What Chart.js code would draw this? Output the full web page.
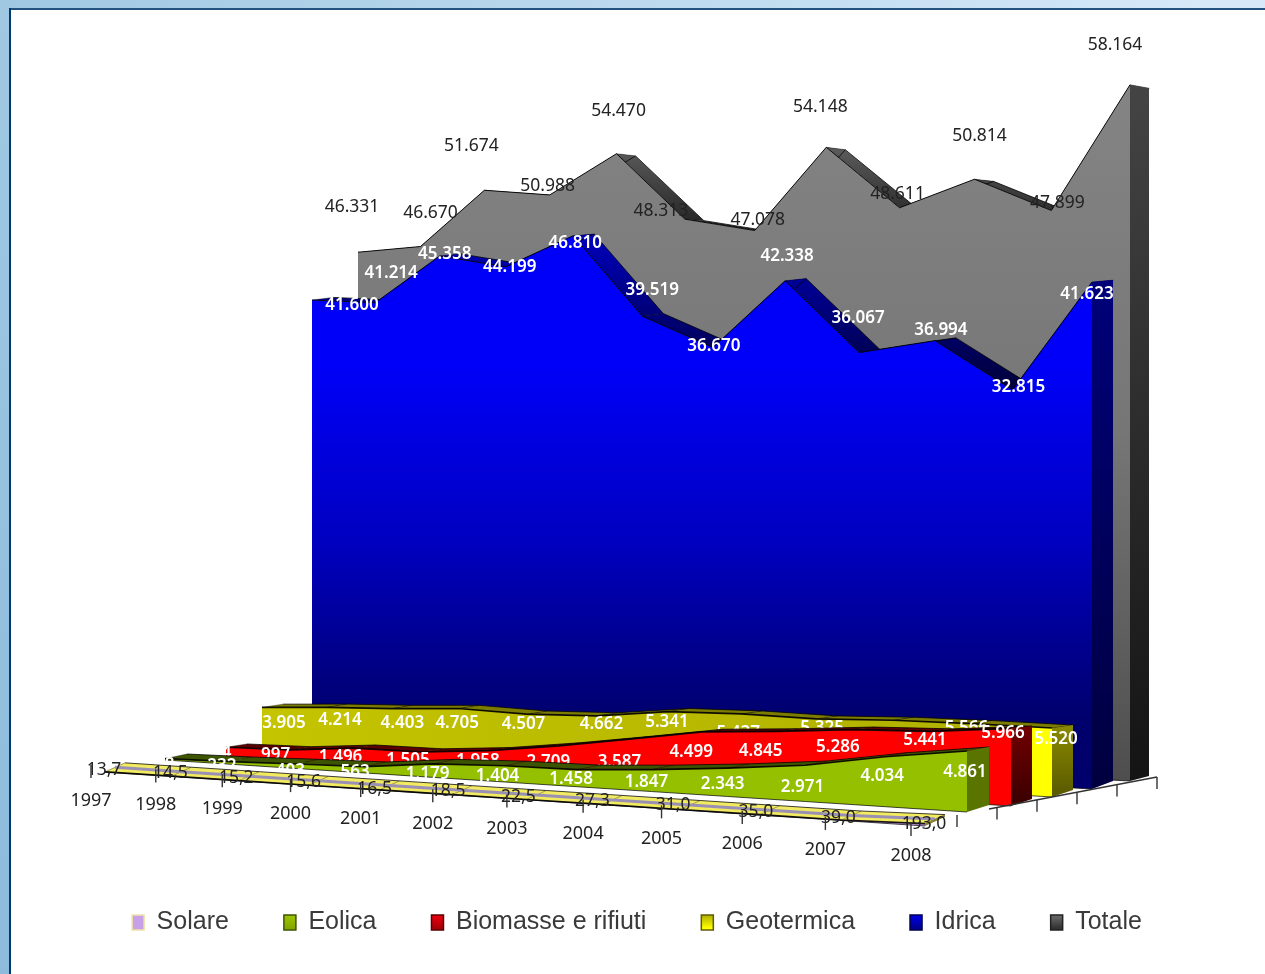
<!DOCTYPE html>
<html><head><meta charset="utf-8">
<style>
html,body{margin:0;padding:0;background:#fff;overflow:hidden}
#topbar{position:absolute;left:0;top:0;width:1265px;height:8px;background:linear-gradient(90deg,#a0c8e2,#d8eafa)}
#topline{position:absolute;left:9px;top:8px;width:1256px;height:2px;background:#24527f}
#leftbar{position:absolute;left:0;top:0;width:9px;height:974px;background:linear-gradient(180deg,#a0c8e2,#8cbbdc)}
#leftline{position:absolute;left:9px;top:8px;width:2px;height:966px;background:#003a70}
canvas{position:absolute;left:0;top:0;filter:blur(.4px)}
</style>
<script src="https://cdn.jsdelivr.net/npm/chart.js@4/dist/chart.umd.min.js"></script>
</head><body>
<div id="topbar"></div><div id="topline"></div><div id="leftbar"></div><div id="leftline"></div>
<canvas id="c" width="1265" height="974"></canvas>
<script>
const categories=['1997','1998','1999','2000','2001','2002','2003','2004','2005','2006','2007','2008'];
const solare=[13.7,14.5,15.2,15.6,16.5,18.5,22.5,27.3,31.0,35.0,39.0,193.0];
const eolica=[118,232,403,563,1179,1404,1458,1847,2343,2971,4034,4861];
const biomasse=[894,997,1496,1505,1958,2709,3587,4499,4845,5286,5441,5966];
const geotermica=[3905,4214,4403,4705,4507,4662,5341,5437,5325,5527,5566,5520];
const idrica=[41600,41214,45358,44199,46810,39519,36670,42338,36067,36994,32815,41623];
const totale=[46331,46670,51674,50988,54470,48313,47078,54148,48611,50814,47899,58164];

const PERSP=1.135, PERSP_AXIS=1.166;
const f=(u,a=PERSP)=>u/(a-(a-1)*u);
// projection of each ribbon: left/right ends, baseline, px per 1000 units, depth
const geo=[
 {x0:105,xN:925,yb0:772,ybN:826,k0:11,kN:12.6,dd:20,db:-9,tb:-9},
 {x0:165,xN:967,yb0:760,ybN:812,k0:10.9,kN:12.55,dd:22,db:-7,tb:-4.7},
 {x0:226,xN:1011,yb0:757,ybN:806,k0:10.9,kN:13,dd:21,db:-7,tb:-3.4},
 {x0:262,xN:1052,yb0:750,ybN:797,k0:10.9,kN:12.5,dd:21,db:-7,tb:-3.8},
 {x0:312,xN:1092,yb0:746,ybN:789,k0:10.72,kN:12.18,dd:21,db:-8,tb:-8},
 {x0:358,xN:1130,yb0:742.4,ybN:781,k0:10.58,kN:11.97,dd:19,db:-5,tb:-5}
];
const labelNudge=[
 [[-1,-4],[-1,-5],[-3,-5],[-5,-5],[-5,-3],[-4,-6],[-8,-4],[-10,-5],[-7,-6],[-4,-5],[-3,-4],[-1,-2]],
 [[-5,4],[-8,3],[-6,5],[-9,4],[-6,8],[-7,8],[-6,8],[-5,11],[-5,14],[-3,20],[-3,17],[-2,19]],
 [[-9,4],[-14,3],[-14,7],[-13,6],[-11,8],[-10,14],[-10,21],[-11,18],[-16,18],[-15,16],[-6,7],[-8,3]],
 [[22,14],[14,11],[11,13],[-1,13],[-3,8],[5,6],[-1,9],[-3,17],[6,7],[0,16],[-5,3],[4,9]],
 [[40,3],[16,-32],[5,-4],[4,-2],[2,5],[10,-28],[1,-3],[2,-27],[-1,-36],[6,-12],[6,-5],[-5,10]],
 [[-6,-47],[10,-35],[-13,-46],[-2,-11],[2,-45],[-24,-10],[3,-13],[-6,-42],[-2,-16],[5,-45],[6,-9],[-15,-42]]
];
const LABEL_DY=2;
const fmtInt=v=>{const s=String(v);return s.length>3?s.slice(0,-3)+'.'+s.slice(-3):s;};
const fmtSol=v=>v.toFixed(1).replace('.',',');

function grad(ctx,y0,y1,stops){const g=ctx.createLinearGradient(0,y0,0,y1);stops.forEach((c,i)=>g.addColorStop(stops.length>1?i/(stops.length-1):0,c));return g;}
function hgrad(ctx,x0,x1,stops){const g=ctx.createLinearGradient(x0,0,x1,0);stops.forEach(s=>g.addColorStop(s[0],s[1]));return g;}
const paint=[
 {face:c=>'#c8a0e8',top:c=>'#f2ea60',side:c=>'#8a8030'},
 {face:c=>'#94c000',top:c=>'#3d5500',side:c=>'#5a7400'},
 {face:c=>'#ff0000',top:c=>'#5a0000',side:c=>grad(c,725,805,['#720000','#3a0000'])},
 {face:(c,s)=>hgrad(c,s.x0,s.xN,[[0,'#c4c400'],[0.965,'#b0b000'],[0.97,'#ffff00'],[1,'#ffff00']]),top:c=>'#7c7c00',side:c=>grad(c,725,795,['#8a8a00','#5a5a00'])},
 {face:c=>grad(c,365,720,['#0000f8','#0000c0','#00006c']),top:c=>grad(c,240,390,['#0000b8','#000038']),side:c=>grad(c,282,785,['#00007a','#000040'])},
 {face:c=>grad(c,85,781,['#848484','#767676','#4e4e4e']),top:c=>grad(c,150,235,['#5a5a5a','#1e1e1e']),side:c=>grad(c,85,777,['#444444','#141414'])}
];

const ribbons={
 id:'ribbons',
 afterDatasetsUpdate(chart){
  const xs=chart.scales.x,ys=chart.scales.y;
  chart.data.datasets.forEach((d,i)=>{
   const g=geo[i];
   chart.getDatasetMeta(i).data.forEach(el=>{
    const ft=f((el.x-xs.left)/xs.width);
    const h=(ys.bottom-el.y)/ys.height*(ys.max/1000);
    const yb=g.yb0+(g.ybN-g.yb0)*ft,k=g.k0+(g.kN-g.k0)*ft;
    const px=h*k;
    el.x=g.x0+(g.xN-g.x0)*ft;
    el.y=yb-px;
    el.$b={yb,bx:el.x+g.dd,by:el.y+g.tb+0.012*px,bb:yb+g.db};
   });
  });
 },
 beforeDatasetDraw(chart,args){
  const i=args.index,ctx=chart.ctx,g=geo[i],p=paint[i],pts=chart.getDatasetMeta(i).data;
  const n=pts.length-1,last=pts[n];
  ctx.save();
  // top face, one quad per segment so that peaks keep their edge
  ctx.fillStyle=p.top(ctx,g);
  for(let j=0;j<n;j++){
   const a=pts[j],b=pts[j+1];
   ctx.beginPath();ctx.moveTo(a.x,a.y);ctx.lineTo(b.x,b.y);ctx.lineTo(b.$b.bx,b.$b.by);ctx.lineTo(a.$b.bx,a.$b.by);ctx.closePath();ctx.fill();
  }
  // back edge
  ctx.beginPath();
  pts.forEach((e,j)=>j?ctx.lineTo(e.$b.bx,e.$b.by):ctx.moveTo(e.$b.bx,e.$b.by));
  ctx.strokeStyle='rgba(0,0,0,.75)';ctx.lineWidth=1;ctx.stroke();
  ctx.strokeStyle='rgba(0,0,0,.35)';
  pts.forEach(e=>{ctx.beginPath();ctx.moveTo(e.x,e.y);ctx.lineTo(e.$b.bx,e.$b.by);ctx.stroke();});
  if(i===0){
   ctx.beginPath();
   pts.forEach((e,j)=>{const mx=(e.x+e.$b.bx)/2,my=(e.y+e.$b.by)/2;j?ctx.lineTo(mx,my):ctx.moveTo(mx,my);});
   ctx.strokeStyle='#9a90b4';ctx.lineWidth=3;ctx.stroke();
  }
  // right side
  ctx.beginPath();
  ctx.moveTo(last.x,last.y);ctx.lineTo(last.$b.bx,last.$b.by);ctx.lineTo(last.$b.bx,last.$b.bb);ctx.lineTo(last.x,last.$b.yb);ctx.closePath();
  ctx.fillStyle=p.side(ctx,g);ctx.fill();
  // front face
  ctx.beginPath();
  pts.forEach((e,j)=>j?ctx.lineTo(e.x,e.y):ctx.moveTo(e.x,e.y));
  ctx.lineTo(last.x,last.$b.yb);
  for(let j=n;j>=0;j--)ctx.lineTo(pts[j].x,pts[j].$b.yb);
  ctx.closePath();ctx.fillStyle=p.face(ctx,g);ctx.fill();
  ctx.beginPath();
  pts.forEach((e,j)=>j?ctx.lineTo(e.x,e.$b.yb):ctx.moveTo(e.x,e.$b.yb));
  ctx.strokeStyle='rgba(0,0,0,.7)';ctx.lineWidth=1;ctx.stroke();
  ctx.restore();
 },
 afterDatasetDraw(chart,args){
  const i=args.index,ctx=chart.ctx,pts=chart.getDatasetMeta(i).data,ds=chart.data.datasets[i];
  ctx.save();
  ctx.textAlign='center';ctx.textBaseline='middle';
  const dark=(i===0||i===5);
  ctx.font=(dark?'':'600 ')+(dark?'17.5px':'17px')+' "Noto Sans"';
  ctx.fillStyle=dark?'#222':'#fff';
  pts.forEach((e,j)=>{
   const t=i===0?fmtSol(ds.data[j]):fmtInt(ds.data[j]);
   ctx.fillText(t,e.x+labelNudge[i][j][0],e.y+labelNudge[i][j][1]+LABEL_DY);
  });
  ctx.restore();
 },
 afterDatasetsDraw(chart){
  const ctx=chart.ctx,xs=chart.scales.x;
  ctx.save();
  // depth axis of the floor
  const depth=6,c0=[957,815],c1=[1157,777];
  ctx.strokeStyle='#333';ctx.lineWidth=1.4;
  ctx.beginPath();ctx.moveTo(989,809);ctx.lineTo(c1[0],c1[1]);ctx.stroke();
  for(let d=0;d<depth;d++){
   const t=d/(depth-1),x=c0[0]+(c1[0]-c0[0])*t,y=c0[1]+(c1[1]-c0[1])*t;
   ctx.beginPath();ctx.moveTo(x,y);ctx.lineTo(x,y+12);ctx.stroke();
  }
  // category axis ticks and labels
  ctx.font='18px "Noto Sans"';ctx.textAlign='center';ctx.textBaseline='middle';ctx.fillStyle='#222';
  categories.forEach((c,j)=>{
   const ft=f((xs.getPixelForValue(j)-xs.left)/xs.width,PERSP_AXIS);
   const x=91+820*ft;
   ctx.strokeStyle='#333';ctx.lineWidth=1.4;
   ctx.beginPath();ctx.moveTo(x,765+58*ft);ctx.lineTo(x,778+58*ft);ctx.stroke();
   ctx.fillText(c,x,800.5+55*ft);
  });
  ctx.restore();
 }
};

const names=['Solare','Eolica','Biomasse e rifiuti','Geotermica','Idrica','Totale'];
const series=[solare,eolica,biomasse,geotermica,idrica,totale];
const swatch=[['#c8a0e8','#c8a0e8'],['#a4cc00','#84a800'],['#ff0010','#a80008'],['#9c9c00','#ffff00'],['#0000ff','#000090'],['#7a7a7a','#333333']];
const swatchEdge=['#efe2a8','#3d5500','#5a0000','#5c5c00','#000050','#222222'];

new Chart(document.getElementById('c'),{
 type:'line',
 data:{labels:categories,datasets:series.map((s,i)=>({
   label:names[i],data:s,
   borderColor:'rgba(0,0,0,.9)',borderWidth:i<4?1.7:1,backgroundColor:swatch[i][0],
   fill:false,tension:0,pointRadius:0,clip:false
 }))},
 plugins:[ribbons],
 options:{
  responsive:false,animation:false,devicePixelRatio:1,events:[],
  layout:{padding:{left:9,right:0,top:20,bottom:29}},
  scales:{x:{display:false},y:{display:false,min:0,max:60000}},
  plugins:{
   title:{display:false},tooltip:{enabled:false},
   legend:{position:'bottom',labels:{
     boxWidth:12,boxHeight:15,padding:55,color:'#3a3a3a',
     font:{family:'"Liberation Sans"',size:25},
     generateLabels(chart){return names.map((n,i)=>({text:n,fillStyle:grad(chart.ctx,912,928,swatch[i]),strokeStyle:swatchEdge[i],lineWidth:1.5,datasetIndex:i,fontColor:'#3a3a3a'}));}
   }}
  }
 }
});
</script>
</body></html>
